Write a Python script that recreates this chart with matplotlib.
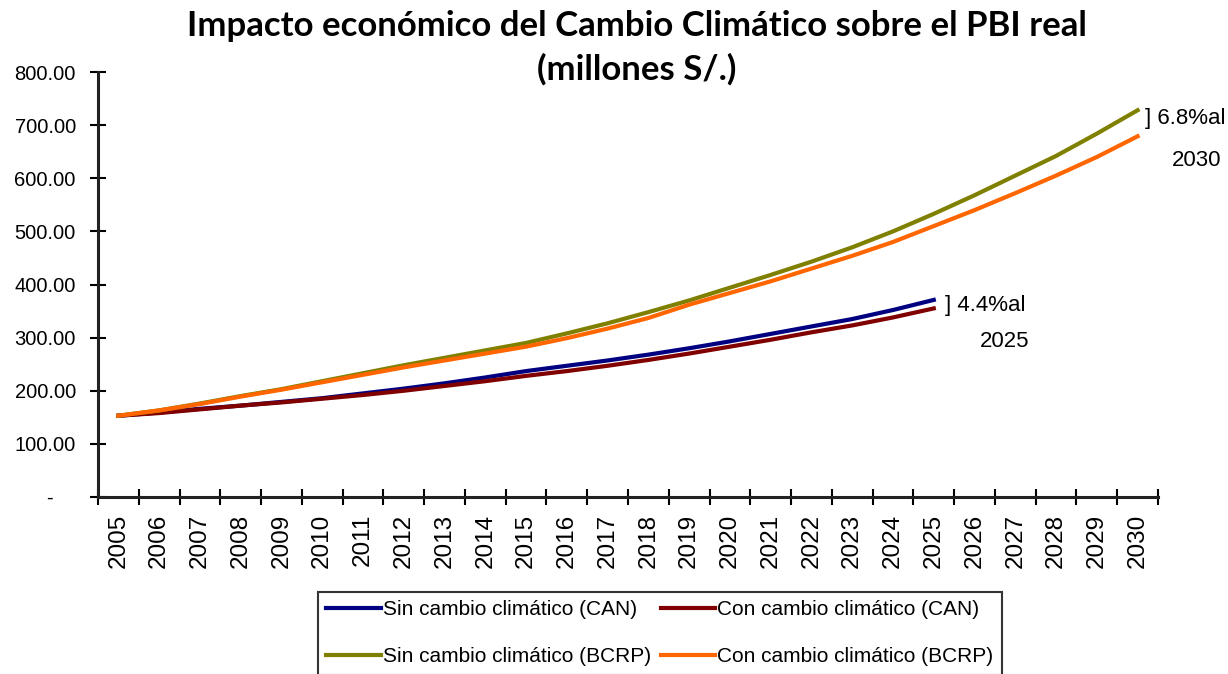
import numpy as np
import matplotlib
matplotlib.use("Agg")
import matplotlib.pyplot as plt

# años (categorías del eje x)
years = [str(y) for y in range(2005, 2031)]

# PBI real, millones S/.
sin_can = [153, 159, 166, 172, 179, 186, 195, 204, 214, 225, 237, 247, 257,
           268, 280, 293, 307, 321, 335, 352, 371]
con_can = [153, 158, 165, 172, 178, 185, 192, 200, 209, 218, 228, 237, 247,
           258, 270, 283, 296, 310, 323, 338, 355]
sin_bcrp = [153, 163, 176, 190, 203, 218, 233, 248, 262, 276, 290, 308, 327,
            348, 370, 394, 418, 443, 470, 500, 533, 568, 605, 642, 684, 728]
con_bcrp = [153, 163, 175, 189, 202, 216, 230, 244, 257, 270, 283, 299, 317,
            337, 362, 384, 406, 430, 454, 480, 510, 540, 572, 605, 640, 679]

y_ticks = [0, 100, 200, 300, 400, 500, 600, 700, 800]
y_labels = ["-    "] + ["%.2f" % v for v in y_ticks[1:]]

plt.rcParams["font.family"] = ["Liberation Sans", "DejaVu Sans"]

fig = plt.figure(figsize=(12.28, 6.74), dpi=100)
ax = fig.add_axes([98 / 1228, 1 - 497 / 674, 1060 / 1228, 425 / 674])

x_can = np.arange(len(sin_can))
x_bcrp = np.arange(len(sin_bcrp))

l1, = ax.plot(x_can, sin_can, color="#000080", lw=3, label="Sin cambio climático (CAN)")
l2, = ax.plot(x_can, con_can, color="#800000", lw=3, label="Con cambio climático (CAN)")
l3, = ax.plot(x_bcrp, sin_bcrp, color="#808000", lw=3, label="Sin cambio climático (BCRP)")
l4, = ax.plot(x_bcrp, con_bcrp, color="#FF6600", lw=3, label="Con cambio climático (BCRP)")

# ejes
ax.set_xlim(-0.5, len(years) - 0.5)
ax.set_ylim(0, 800)
ax.set_yticks(y_ticks)
ax.set_yticklabels(y_labels, fontsize=14.5)
ax.set_xticks(np.arange(len(years) + 1) - 0.5)
ax.set_xticklabels([])
ax.set_xticks(np.arange(len(years)), minor=True)
ax.set_xticklabels(years, minor=True, rotation=90, fontsize=17.5)
ax.tick_params(axis="x", which="minor", length=0, pad=12)
ax.tick_params(axis="x", which="major", direction="inout", length=12, width=1.5)
ax.tick_params(axis="y", direction="inout", length=12, width=1.5, pad=10)
for s in ["top", "right"]:
    ax.spines[s].set_visible(False)
for s in ["left", "bottom"]:
    ax.spines[s].set_linewidth(2.2)
    ax.spines[s].set_color("#222222")

# anotaciones de impacto
ax.text(25.17, 713, "] 6.8%al", fontsize=16, va="center", ha="left", clip_on=False)
ax.text(27.06, 634, "2030", fontsize=16, va="center", ha="right", clip_on=False)
ax.text(20.27, 361, "] 4.4%al", fontsize=16, va="center", ha="left", clip_on=False)
ax.text(22.35, 292, "2025", fontsize=16, va="center", ha="right", clip_on=False)

# título
fig.text(637 / 1228, 1 - 26 / 674, "Impacto económico del Cambio Climático sobre el PBI real",
         ha="center", va="center", fontsize=25, fontweight="bold", family=["Lato", "DejaVu Sans"])
fig.text(637 / 1228, 1 - 69 / 674, "(millones S/.)",
         ha="center", va="center", fontsize=25, fontweight="bold", family=["Lato", "DejaVu Sans"])

leg = fig.legend(handles=[l1, l3, l2, l4], ncol=2, loc="upper left",
                 bbox_to_anchor=(318 / 1228, 1 - 592 / 674),
                 prop={"size": 15},
                 handlelength=2.6, handletextpad=0.1, columnspacing=0.5,
                 labelspacing=1.35, borderpad=0.4, fancybox=False, framealpha=1,
                 edgecolor="#333333", borderaxespad=0)
leg.get_frame().set_linewidth(1.5)
for h in leg.legend_handles:
    h.set_linewidth(3)

fig.savefig("out.png", dpi=100)
